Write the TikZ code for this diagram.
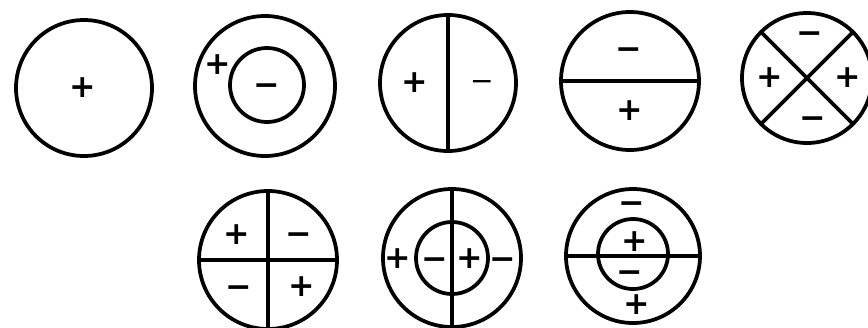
\documentclass[tikz,border=0pt]{standalone}
\usepackage{fontspec}
\setmainfont{DejaVu Sans}
\begin{document}
\begin{tikzpicture}[x=0.03cm,y=-0.03cm,
  ring/.style={draw,circle,line width=3.2pt,outer sep=0pt,inner sep=0pt,minimum size=#1*0.06cm},
  sep/.style={line width=3.2pt},
  lab/.style={inner sep=0pt,font=\fontsize{27}{27}\selectfont\bfseries},
  mi/.style={lab,yshift=-4pt},
  thin/.style={inner sep=0pt,yshift=-3.5pt,font=\fontsize{24}{24}\selectfont}]
\useasboundingbox (0,0) rectangle (868,327);
% 1
\node[ring=68] (c1) at (84,88) {};
\node[lab] (c1p) at (83,88) {+};
% 2
\node[ring=70] (c2) at (265,86) {};
\node[ring=37] (c2i) at (267,85) {};
\node[mi] (c2m) at (267,85) {−};
\node[lab] (c2p) at (218,65) {+};
% 3
\node[ring=68] (c3) at (448,83) {};
\draw[sep] (c3.north) -- (c3.south);
\node[lab] (c3p) at (415,83) {+};
\node[thin] (c3m) at (482,81) {−};
% 4
\node[ring=69] (c4) at (630,81) {};
\draw[sep] (c4.west) -- (c4.east);
\node[mi] (c4m) at (629,49) {−};
\node[lab] (c4p) at (630,111) {+};
% 5
\node[ring=65] (c5) at (807,78) {};
\draw[sep] (c5.north west) -- (c5.south east);
\draw[sep] (c5.north east) -- (c5.south west);
\node[mi] (c5t) at (810,33) {−};
\node[mi] (c5b) at (813,118) {−};
\node[lab] (c5l) at (770,78) {+};
\node[lab] (c5r) at (848,78) {+};
% 6
\node[ring=69] (c6) at (268,260) {};
\draw[sep] (c6.north) -- (c6.south);
\draw[sep] (c6.west) -- (c6.east);
\node[lab] (c6a) at (237,235) {+};
\node[mi] (c6b) at (299,234) {−};
\node[mi] (c6c) at (239,287) {−};
\node[lab] (c6d) at (302,287) {+};
% 7
\node[ring=69] (c7) at (452,258) {};
\node[ring=36] (c7i) at (452,258) {};
\draw[sep] (c7.north) -- (c7.south);
\node[lab] (c7a) at (398,259) {+};
\node[mi] (c7b) at (435,259) {−};
\node[lab] (c7c) at (470,259) {+};
\node[mi] (c7d) at (503,259) {−};
% 8
\node[ring=67] (c8) at (633,256) {};
\node[ring=35] (c8i) at (633,254) {};
\draw[sep] (c8.west) -- (c8.east);
\node[mi] (c8a) at (632,203) {−};
\node[lab] (c8b) at (635,242) {+};
\node[mi] (c8c) at (630,272) {−};
\node[lab] (c8d) at (637,305) {+};
\end{tikzpicture}
\end{document}
